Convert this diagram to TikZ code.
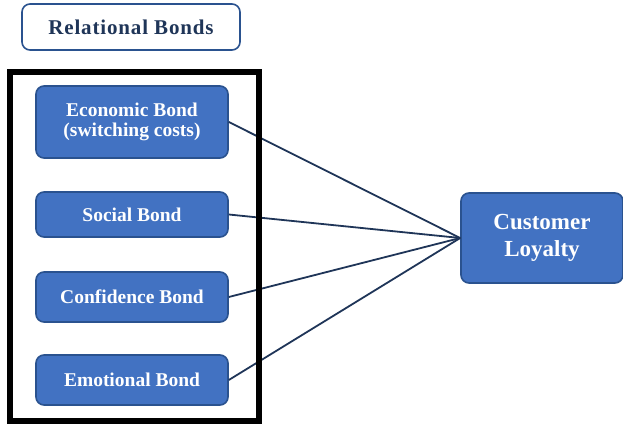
\documentclass[tikz,border=0pt]{standalone}
\usepackage{fontspec}
\setmainfont{Liberation Serif}
\usetikzlibrary{positioning}

\definecolor{bondfill}{HTML}{4272C2}
\definecolor{bondline}{HTML}{2A528F}
\definecolor{linkcol}{HTML}{1F3558}

\begin{document}
\begin{tikzpicture}[
  x=1pt, y=-1pt,
  bond/.style={draw=bondline, line width=1.6pt, fill=bondfill, rounded corners=8pt, text=white, align=center, font=\fontsize{19.5}{20}\selectfont\bfseries, minimum width=192pt, inner sep=2pt},
  title/.style={draw=bondline, line width=1.6pt, fill=white, rounded corners=8pt, text=linkcol, font=\fontsize{21}{22}\selectfont\bfseries\addfontfeatures{LetterSpace=4}, minimum width=218pt, minimum height=46pt},
  link/.style={draw=linkcol, line width=1.8pt}
]
\useasboundingbox (0,0) rectangle (623,427);

% Title
\node[title] (relational) at (131,27) {Relational Bonds};

% Bonds
\node[bond, minimum height=72pt] (economic) at (132,122) {Economic Bond\\(switching costs)};
\node[bond, minimum height=45pt] (social) at (132,214.5) {Social Bond};
\node[bond, minimum height=50pt] (confidence) at (132,297) {Confidence Bond};
\node[bond, minimum height=50pt] (emotional) at (132,380) {Emotional Bond};

% Outcome
\node[bond, minimum width=162pt, minimum height=90pt, font=\fontsize{23}{27}\selectfont\bfseries] (loyalty) at (542,238) {Customer\\Loyalty};

% Links
\draw[link] (economic.east) -- (loyalty.west);
\draw[link] (social.east) -- (loyalty.west);
\draw[link] (confidence.east) -- (loyalty.west);
\draw[link] (emotional.east) -- (loyalty.west);

% Frame
\node[draw, line width=6pt, minimum width=249pt, minimum height=349pt, inner sep=0pt] (frame) at (134.5,246.5) {};

\end{tikzpicture}
\end{document}
